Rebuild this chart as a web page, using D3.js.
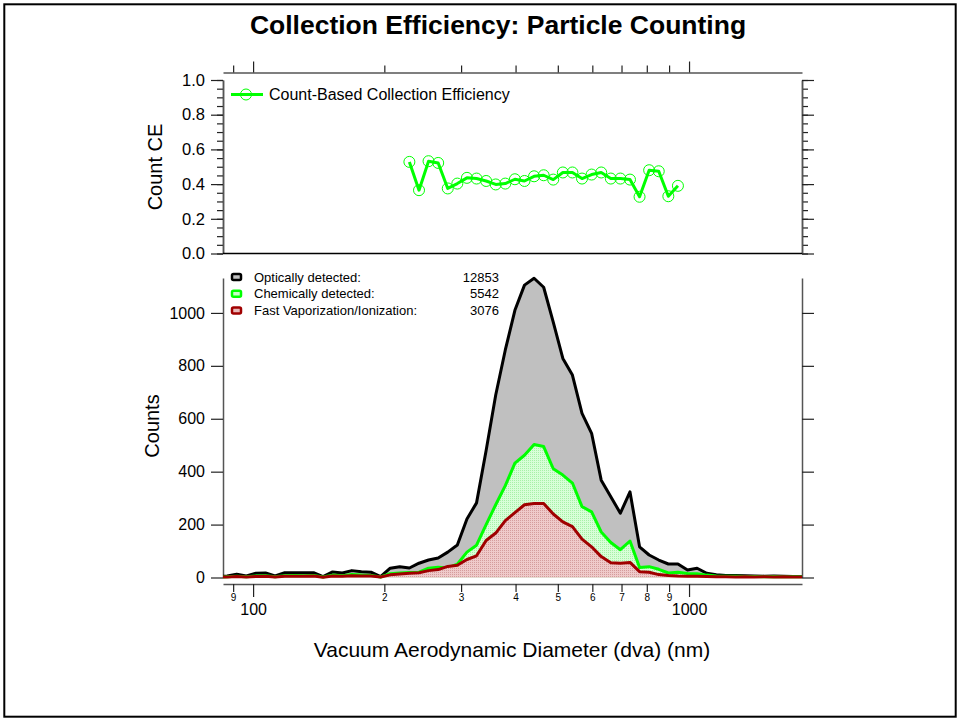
<!DOCTYPE html>
<html>
<head>
<meta charset="utf-8">
<script src="https://cdn.jsdelivr.net/npm/d3@7"></script>
<style>
    body { margin: 0; background: #fff; }
    svg text { font-family: "Liberation Sans", Arial, sans-serif; }
</style>
</head>
<body>
<div id="chart"></div>
<script>
// Bin centres, vacuum aerodynamic diameter (nm)
var dva = [
    82.9, 87.2, 91.7, 96.5, 101.5, 106.8, 112.3, 118.2, 124.3, 130.8,
    137.6, 144.7, 152.2, 160.2, 168.5, 177.2, 186.4, 196.1, 206.3, 217.0,
    228.3, 240.2, 252.6, 265.8, 279.6, 294.1, 309.4, 325.5, 342.4, 360.2,
    378.9, 398.6, 419.3, 441.1, 464.0, 488.1, 513.5, 540.1, 568.2, 597.7,
    628.8, 661.5, 695.8, 732.0, 770.0, 810.0, 852.1, 896.4, 943.0, 992.0,
    1043.5, 1097.8, 1154.8, 1214.8, 1277.9, 1344.3, 1414.2, 1487.7, 1565.0, 1646.3,
    1731.8, 1821.8
];
var optical = [
    2, 6, 12, 6, 16, 17, 6, 18, 18, 18,
    18, 3, 21, 17, 26, 22, 20, 3, 35, 41,
    36, 54, 66, 74, 96, 123, 221, 282, 480, 690,
    860, 1010, 1105, 1131, 1097, 965, 828, 765, 620, 545,
    368, 305, 243, 324, 116, 85, 66, 51, 51, 28,
    35, 16, 10, 8, 8, 7, 6, 5, 6, 5,
    4, 4
];
var chemical = [
    1, 3, 5, 3, 6, 7, 3, 7, 8, 7,
    8, 2, 9, 7, 11, 9, 8, 2, 14, 17,
    19, 20, 35, 39, 36, 50, 96, 122, 200, 275,
    347, 432, 462, 503, 495, 411, 387, 357, 268, 248,
    172, 132, 105, 138, 38, 41, 31, 17, 20, 15,
    14, 9, 6, 5, 5, 4, 4, 3, 4, 3,
    3, 3
];
var fastVap = [
    1, 2, 4, 2, 4, 5, 2, 5, 5, 5,
    6, 1, 6, 5, 7, 6, 6, 2, 10, 13,
    16, 18, 26, 30, 42, 46, 68, 82, 140, 168,
    215, 245, 275, 280, 280, 240, 210, 192, 145, 116,
    79, 56, 54, 57, 22, 20, 11, 8, 6, 5,
    5, 4, 3, 3, 2, 3, 2, 3, 2, 3,
    2, 2
];
// Count CE, bins 228 nm .. 943 nm
var ceValues = [
    0.528, 0.365, 0.532, 0.522, 0.375, 0.403, 0.436, 0.432, 0.418, 0.398,
    0.403, 0.428, 0.418, 0.445, 0.451, 0.426, 0.467, 0.467, 0.432, 0.455,
    0.467, 0.432, 0.432, 0.426, 0.327, 0.480, 0.474, 0.330, 0.390
];
var ceDva = dva.slice(20, 20 + ceValues.length);

var legendNames  = [ 'Optically detected:', 'Chemically detected:', 'Fast Vaporization/Ionization:' ];
var legendTotals = [ 12853, 5542, 3076 ];
var ceTicks      = [ 0, 0.2, 0.4, 0.6, 0.8, 1.0 ];
var countTicks   = [ 0, 200, 400, 600, 800, 1000 ];
var minorTicks   = [ 90, 200, 300, 400, 500, 600, 700, 800, 900 ];
var majorTicks   = [ 100, 1000 ];

var chart_width     =   960;
var chart_height    =   721;
var plot_left       =   223;
var plot_right      =   802;

var svg             =   d3.select( '#chart' )
    .append( 'svg' )
    .attr( 'width', chart_width )
    .attr( 'height', chart_height );

// Patterns for the filled areas
var defs = svg.append( 'defs' );
function addPattern( id, bg, dot ) {
    var p = defs.append( 'pattern' )
        .attr( 'id', id )
        .attr( 'width', 2 )
        .attr( 'height', 2 )
        .attr( 'patternUnits', 'userSpaceOnUse' );
    p.append( 'rect' ).attr( 'width', 2 ).attr( 'height', 2 ).attr( 'fill', bg );
    p.append( 'rect' ).attr( 'width', 1 ).attr( 'height', 1 ).attr( 'fill', dot );
}
addPattern( 'green-fill', '#d8ffd8', '#a8f0a8' );
addPattern( 'red-fill', '#efcaca', '#d49c9c' );

defs.append( 'clipPath' )
    .attr( 'id', 'plot-clip' )
    .append( 'rect' )
    .attr( 'x', plot_left )
    .attr( 'y', 60 )
    .attr( 'width', plot_right - plot_left )
    .attr( 'height', 540 );

// Frame
svg.append( 'rect' )
    .attr( 'x', 4.3 )
    .attr( 'y', 4.3 )
    .attr( 'width', chart_width - 8.6 )
    .attr( 'height', chart_height - 8.6 )
    .attr( 'fill', 'none' )
    .attr( 'stroke', '#000' )
    .attr( 'stroke-width', 2 );

// Scales
var x_scale         =   d3.scaleLog()
    .domain([ 85.3, 1816 ])
    .range([ plot_left, plot_right ]);

var ce_scale        =   d3.scaleLinear()
    .domain([ 0, 1 ])
    .range([ 253.5, 80 ]);

var count_scale     =   d3.scaleLinear()
    .domain([ 0, 1132 ])
    .range([ 577.5, 278 ]);

function styleAxis( g, size ) {
    g.attr( 'font-family', '"Liberation Sans", Arial, sans-serif' )
        .attr( 'font-size', size );
    g.select( '.domain' ).attr( 'stroke', '#555' ).attr( 'stroke-width', 1.5 );
    g.selectAll( '.tick line' ).attr( 'stroke', '#222' ).attr( 'stroke-width', 1.2 );
    g.selectAll( '.tick text' ).attr( 'fill', '#000' );
}

// Top x axis (no labels)
var top_minor = svg.append( 'g' )
    .attr( 'transform', 'translate(0,72.5)' )
    .call( d3.axisTop( x_scale ).tickValues( minorTicks ).tickSize( 7 ).tickSizeOuter( 0 ).tickFormat( '' ) );
styleAxis( top_minor, 10 );
var top_major = svg.append( 'g' )
    .attr( 'transform', 'translate(0,72.5)' )
    .call( d3.axisTop( x_scale ).tickValues( majorTicks ).tickSize( 11 ).tickSizeOuter( 0 ).tickFormat( '' ) );
styleAxis( top_major, 10 );
top_major.select( '.domain' ).remove();

// Bottom x axis
var bot_minor = svg.append( 'g' )
    .attr( 'transform', 'translate(0,584)' )
    .call( d3.axisBottom( x_scale ).tickValues( minorTicks ).tickSize( 8 ).tickSizeOuter( 0 ).tickPadding( 2 )
        .tickFormat( function( d ){ return String( d ).charAt( 0 ); } ) );
styleAxis( bot_minor, 10 );
var bot_major = svg.append( 'g' )
    .attr( 'transform', 'translate(0,584)' )
    .call( d3.axisBottom( x_scale ).tickValues( majorTicks ).tickSize( 13 ).tickSizeOuter( 0 ).tickPadding( 7 )
        .tickFormat( d3.format( 'd' ) ) );
styleAxis( bot_major, 16 );
bot_major.select( '.domain' ).remove();

// CE axes
var ce_minor = d3.range( 0, 1.0001, 0.05 );
var ce_left_minor = svg.append( 'g' )
    .attr( 'transform', 'translate(' + plot_left + ',0)' )
    .call( d3.axisLeft( ce_scale ).tickValues( ce_minor ).tickSize( 6 ).tickSizeOuter( 0 ).tickFormat( '' ) );
styleAxis( ce_left_minor, 16.5 );
var ce_left = svg.append( 'g' )
    .attr( 'transform', 'translate(' + plot_left + ',0)' )
    .call( d3.axisLeft( ce_scale ).tickValues( ceTicks ).tickSize( 12 ).tickSizeOuter( 0 ).tickPadding( 6 )
        .tickFormat( d3.format( '.1f' ) ) );
styleAxis( ce_left, 16.5 );
var ce_right_minor = svg.append( 'g' )
    .attr( 'transform', 'translate(' + plot_right + ',0)' )
    .call( d3.axisRight( ce_scale ).tickValues( ce_minor ).tickSize( 6 ).tickSizeOuter( 0 ).tickFormat( '' ) );
styleAxis( ce_right_minor, 16.5 );
var ce_right = svg.append( 'g' )
    .attr( 'transform', 'translate(' + plot_right + ',0)' )
    .call( d3.axisRight( ce_scale ).tickValues( ceTicks ).tickSize( 12 ).tickSizeOuter( 0 ).tickFormat( '' ) );
styleAxis( ce_right, 16.5 );

// Baseline of the CE panel
svg.append( 'line' )
    .attr( 'x1', plot_left )
    .attr( 'x2', plot_right )
    .attr( 'y1', ce_scale( 0 ) )
    .attr( 'y2', ce_scale( 0 ) )
    .attr( 'stroke', '#000' )
    .attr( 'stroke-width', 1.5 );

// Count axes
var count_left = svg.append( 'g' )
    .attr( 'transform', 'translate(' + plot_left + ',0)' )
    .call( d3.axisLeft( count_scale ).tickValues( countTicks ).tickSize( 12 ).tickSizeOuter( 0 ).tickPadding( 6 )
        .tickFormat( d3.format( 'd' ) ) );
styleAxis( count_left, 16 );
var count_right = svg.append( 'g' )
    .attr( 'transform', 'translate(' + plot_right + ',0)' )
    .call( d3.axisRight( count_scale ).tickValues( countTicks ).tickSize( 12 ).tickSizeOuter( 0 ).tickFormat( '' ) );
styleAxis( count_right, 16 );

// Areas and lines
var series = [
    { values: optical,  stroke: '#000000', fill: '#c0c0c0' },
    { values: chemical, stroke: '#00ff00', fill: 'url(#green-fill)' },
    { values: fastVap,  stroke: '#a00000', fill: 'url(#red-fill)' }
];

var area = d3.area()
    .x( function( d, i ){ return x_scale( dva[i] ); } )
    .y0( count_scale( 0 ) )
    .y1( function( d ){ return count_scale( d ); } );

var line = d3.line()
    .x( function( d, i ){ return x_scale( dva[i] ); } )
    .y( function( d ){ return count_scale( d ); } );

var plot = svg.append( 'g' ).attr( 'clip-path', 'url(#plot-clip)' );

series.forEach( function( s ){
    plot.append( 'path' )
        .attr( 'd', area( s.values ) )
        .attr( 'fill', s.fill );
    plot.append( 'path' )
        .attr( 'd', line( s.values ) )
        .attr( 'fill', 'none' )
        .attr( 'stroke', s.stroke )
        .attr( 'stroke-width', 3 )
        .attr( 'stroke-linejoin', 'round' );
});

// CE line + markers
var ce_line = d3.line()
    .x( function( d, i ){ return x_scale( ceDva[i] ); } )
    .y( function( d ){ return ce_scale( d ); } );

svg.append( 'path' )
    .attr( 'd', ce_line( ceValues ) )
    .attr( 'fill', 'none' )
    .attr( 'stroke', '#00ff00' )
    .attr( 'stroke-width', 3 )
    .attr( 'stroke-linejoin', 'round' );

svg.append( 'g' )
    .selectAll( 'circle' )
    .data( ceValues )
    .enter()
    .append( 'circle' )
    .attr( 'cx', function( d, i ){ return x_scale( ceDva[i] ); } )
    .attr( 'cy', function( d ){ return ce_scale( d ); } )
    .attr( 'r', 5.5 )
    .attr( 'fill', 'none' )
    .attr( 'stroke', '#00ff00' )
    .attr( 'stroke-width', 1 );

// CE legend
svg.append( 'line' )
    .attr( 'x1', 231 ).attr( 'x2', 263 )
    .attr( 'y1', 94.5 ).attr( 'y2', 94.5 )
    .attr( 'stroke', '#00ff00' )
    .attr( 'stroke-width', 3 );
svg.append( 'circle' )
    .attr( 'cx', 246 ).attr( 'cy', 94.5 ).attr( 'r', 5.5 )
    .attr( 'fill', 'none' )
    .attr( 'stroke', '#00ff00' );
svg.append( 'text' )
    .attr( 'x', 269 ).attr( 'y', 94.5 )
    .attr( 'dy', '0.35em' )
    .attr( 'font-size', 16 )
    .text( 'Count-Based Collection Efficiency' );

// Counts legend
var swatch_fill = [ '#c0c0c0', '#c8ffc8', '#e8b8b8' ];
var legend = svg.append( 'g' )
    .selectAll( 'g' )
    .data( legendNames )
    .enter()
    .append( 'g' )
    .attr( 'transform', function( d, i ){ return 'translate(0,' + ( 277 + i * 16.7 ) + ')'; } );

legend.append( 'rect' )
    .attr( 'x', 232 ).attr( 'y', -3 )
    .attr( 'width', 9 ).attr( 'height', 6 )
    .attr( 'rx', 1.5 )
    .attr( 'fill', function( d, i ){ return swatch_fill[i]; } )
    .attr( 'stroke', function( d, i ){ return series[i].stroke; } )
    .attr( 'stroke-width', 2.5 );

legend.append( 'text' )
    .attr( 'x', 254 )
    .attr( 'dy', '0.35em' )
    .attr( 'font-size', 13 )
    .text( function( d ){ return d; } );

legend.append( 'text' )
    .attr( 'x', 499 )
    .attr( 'dy', '0.35em' )
    .attr( 'font-size', 13 )
    .attr( 'text-anchor', 'end' )
    .text( function( d, i ){ return legendTotals[i]; } );

// Titles
svg.append( 'text' )
    .attr( 'x', 498 ).attr( 'y', 25 )
    .attr( 'dy', '0.35em' )
    .attr( 'text-anchor', 'middle' )
    .attr( 'font-size', 26.5 )
    .attr( 'font-weight', 'bold' )
    .text( 'Collection Efficiency: Particle Counting' );

svg.append( 'text' )
    .attr( 'transform', 'translate(155,167) rotate(-90)' )
    .attr( 'dy', '0.35em' )
    .attr( 'text-anchor', 'middle' )
    .attr( 'font-size', 20 )
    .text( 'Count CE' );

svg.append( 'text' )
    .attr( 'transform', 'translate(152,426) rotate(-90)' )
    .attr( 'dy', '0.35em' )
    .attr( 'text-anchor', 'middle' )
    .attr( 'font-size', 20 )
    .text( 'Counts' );

svg.append( 'text' )
    .attr( 'x', 512 ).attr( 'y', 650 )
    .attr( 'dy', '0.35em' )
    .attr( 'text-anchor', 'middle' )
    .attr( 'font-size', 21 )
    .text( 'Vacuum Aerodynamic Diameter (dva) (nm)' );
</script>
</body>
</html>
